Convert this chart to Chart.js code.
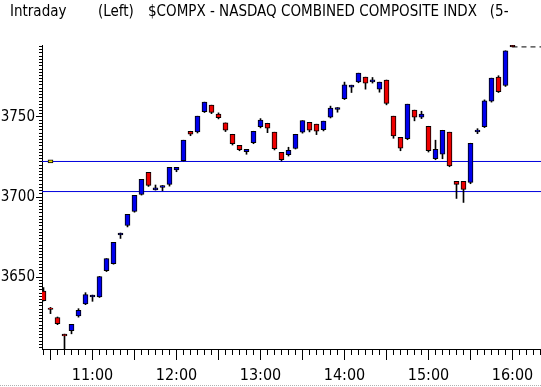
<!DOCTYPE html>
<html>
<head>
<meta charset="utf-8">
<script src="https://cdn.jsdelivr.net/npm/chart.js@4.4.1/dist/chart.umd.min.js"></script>
<style>
  html, body { margin: 0; padding: 0; background: #fff; }
  #wrap { position: relative; width: 541px; height: 387px; overflow: hidden; }
  #wrap canvas { position: absolute; left: 0; top: 0; }
  .ttl {
    position: absolute; top: 2px; line-height: 16px; white-space: nowrap; color: #000;
    font: 15px 'Liberation Sans Narrow', 'DejaVu Sans Condensed', sans-serif;
  }
  #foot { position: absolute; left: 0; top: 385px; width: 541px; border-top: 1px dotted #b0b0b0; }
</style>
</head>
<body>
<div id="wrap">
  <canvas id="chart" width="541" height="387"></canvas>
  <span class="ttl" style="left:10px">Intraday</span>
  <span class="ttl" style="left:98px">(Left)</span>
  <span class="ttl" style="left:148px">$COMPX - NASDAQ COMBINED COMPOSITE INDX&nbsp;&nbsp;&nbsp;(5-</span>
  <div id="foot"></div>
</div>
<script>
// 5-minute bars, 10:25 .. 16:00
const times = [
  '10:25','10:30','10:35','10:40','10:45','10:50','10:55','11:00','11:05','11:10',
  '11:15','11:20','11:25','11:30','11:35','11:40','11:45','11:50','11:55','12:00',
  '12:05','12:10','12:15','12:20','12:25','12:30','12:35','12:40','12:45','12:50',
  '12:55','13:00','13:05','13:10','13:15','13:20','13:25','13:30','13:35','13:40',
  '13:45','13:50','13:55','14:00','14:05','14:10','14:15','14:20','14:25','14:30',
  '14:35','14:40','14:45','14:50','14:55','15:00','15:05','15:10','15:15','15:20',
  '15:25','15:30','15:35','15:40','15:45','15:50','15:55','16:00'
];
const opens = [
  3641.2, 3630.6, 3624.7, 3614.3, 3616.4, 3625.6, 3633.1, 3637.5, 3637.5, 3654.0,
  3658.4, 3676.3, 3682.2, 3691.0, 3701.6, 3715.4, 3704.5, 3706.0, 3707.9, 3717.0,
  3722.7, 3741.1, 3740.7, 3753.4, 3757.4, 3751.8, 3746.3, 3739.2, 3732.3, 3728.3,
  3734.0, 3744.0, 3746.1, 3740.5, 3727.9, 3726.4, 3730.3, 3740.5, 3746.7, 3745.5,
  3742.1, 3749.9, 3754.7, 3761.5, 3768.7, 3772.0, 3774.9, 3772.0, 3767.4, 3773.1,
  3750.5, 3737.3, 3736.5, 3754.3, 3749.9, 3744.2, 3723.9, 3726.7, 3740.5, 3709.8,
  3709.8, 3709.1, 3740.7, 3744.0, 3759.9, 3774.9, 3769.7, 3795.0
];
const highs = [
  3643.4, 3631.0, 3625.0, 3614.3, 3620.4, 3630.2, 3640.2, 3638.7, 3650.4, 3661.5,
  3671.6, 3677.5, 3689.1, 3701.0, 3711.0, 3715.4, 3707.5, 3707.2, 3718.5, 3718.5,
  3735.5, 3741.1, 3750.5, 3759.3, 3757.4, 3752.6, 3746.3, 3739.2, 3732.3, 3729.8,
  3741.1, 3749.0, 3746.1, 3740.5, 3727.9, 3731.1, 3739.2, 3747.7, 3746.7, 3745.5,
  3747.4, 3756.8, 3755.9, 3771.8, 3769.9, 3777.4, 3774.9, 3774.7, 3771.8, 3773.1,
  3750.5, 3737.3, 3758.0, 3754.3, 3753.6, 3744.2, 3735.5, 3741.7, 3740.5, 3709.8,
  3709.8, 3733.6, 3742.7, 3760.7, 3774.3, 3775.8, 3791.4, 3795.0
];
const lows = [
  3635.0, 3627.1, 3620.2, 3604.0, 3614.5, 3624.9, 3632.7, 3634.8, 3637.2, 3653.4,
  3658.0, 3674.1, 3681.3, 3690.5, 3701.2, 3706.6, 3704.3, 3703.9, 3706.8, 3715.8,
  3722.5, 3738.3, 3740.0, 3752.8, 3752.1, 3748.8, 3740.9, 3732.5, 3728.9, 3726.7,
  3733.3, 3743.2, 3740.2, 3729.4, 3722.5, 3725.6, 3730.0, 3739.9, 3740.7, 3739.0,
  3741.3, 3749.4, 3753.0, 3760.9, 3765.3, 3771.4, 3767.4, 3771.2, 3765.5, 3757.6,
  3736.7, 3728.9, 3735.8, 3747.6, 3749.0, 3728.1, 3723.3, 3723.9, 3718.9, 3699.1,
  3696.6, 3708.3, 3739.6, 3743.4, 3759.3, 3765.3, 3769.1, 3793.8
];
const closes = [
  3635.2, 3629.8, 3620.8, 3613.1, 3620.4, 3629.1, 3639.0, 3638.7, 3650.2, 3661.5,
  3671.6, 3677.5, 3689.1, 3701.0, 3711.0, 3707.3, 3705.7, 3707.2, 3718.5, 3718.5,
  3735.5, 3739.2, 3750.5, 3759.3, 3752.9, 3749.6, 3741.7, 3733.3, 3729.6, 3729.8,
  3741.1, 3748.0, 3743.0, 3730.2, 3723.3, 3729.2, 3739.2, 3747.7, 3741.7, 3741.1,
  3747.4, 3755.5, 3755.9, 3770.1, 3769.9, 3777.4, 3771.2, 3773.2, 3771.8, 3758.5,
  3738.2, 3730.5, 3758.0, 3749.9, 3751.8, 3728.9, 3729.8, 3741.7, 3719.5, 3707.9,
  3704.8, 3733.6, 3741.9, 3760.1, 3774.3, 3765.9, 3791.4, 3793.8
];
// horizontal reference levels and the small marker on the upper one
const levels = [3722.2, 3703.4];
const markerTime = '10:30';
const markerRange = [3721.3, 3723.2];
const yTicks = [3650, 3700, 3750];

const FONT = "'Liberation Sans Narrow', 'DejaVu Sans Condensed', sans-serif";
const UP = '#0000ee', DOWN = '#ee0000';

const toMin = (s) => { const [h, m] = s.split(':').map(Number); return h * 60 + m; };
const X_MIN = 623.93, X_MAX = 980.36;

const bodies = times.map((t, i) => ({ x: toMin(t), y: [opens[i], closes[i]] }));
const wicks = times.map((t, i) => ({ x: toMin(t), y: [lows[i], highs[i]] }));
const bodyColors = times.map((t, i) => (closes[i] >= opens[i] ? UP : DOWN));
const lastClose = closes[closes.length - 1];

// small tick marks between the labelled ones
const minorTicks = {
  id: 'minorTicks',
  afterDraw(chart) {
    const { ctx, chartArea, scales: { x, y } } = chart;
    ctx.save();
    ctx.strokeStyle = '#000';
    ctx.lineWidth = 1;
    ctx.beginPath();
    for (let t = toMin(times[0]); t <= x.max; t += 5) {
      const px = Math.round(x.getPixelForValue(t) - 0.5) + 0.5;
      ctx.moveTo(px, chartArea.bottom);
      ctx.lineTo(px, chartArea.bottom + 6);
    }
    for (let v = Math.ceil(y.min / 2) * 2; v <= y.max; v += 2) {
      const py = Math.round(y.getPixelForValue(v) - 0.5) + 0.5;
      ctx.moveTo(chartArea.left - 3, py);
      ctx.lineTo(chartArea.left, py);
    }
    ctx.stroke();
    ctx.restore();
  }
};

new Chart(document.getElementById('chart'), {
  type: 'bar',
  data: {
    datasets: [
      ...levels.map((v) => ({
        type: 'line',
        data: [{ x: X_MIN, y: v }, { x: X_MAX, y: v }],
        borderColor: '#0000dd',
        borderWidth: 1,
        pointRadius: 0,
        order: 4
      })),
      {
        type: 'line',
        data: [{ x: toMin(times[times.length - 1]), y: lastClose }, { x: X_MAX, y: lastClose }],
        borderColor: '#000',
        borderWidth: 1,
        borderDash: [5, 4],
        pointRadius: 0,
        order: 3
      },
      {
        data: wicks,
        backgroundColor: '#000',
        borderWidth: 0,
        barThickness: 1,
        grouped: false,
        clip: 0,
        order: 2
      },
      {
        data: bodies,
        backgroundColor: bodyColors,
        borderColor: '#000',
        borderWidth: 1,
        borderSkipped: false,
        barThickness: 5,
        grouped: false,
        clip: 0,
        order: 1
      },
      {
        data: [{ x: toMin(markerTime), y: markerRange }],
        backgroundColor: '#f0e000',
        borderColor: '#000',
        borderWidth: 1,
        borderSkipped: false,
        barThickness: 5,
        grouped: false,
        order: 0
      }
    ]
  },
  options: {
    responsive: false,
    animation: false,
    layout: { padding: { top: 45, left: 0, right: 0, bottom: 0 } },
    plugins: { legend: { display: false }, tooltip: { enabled: false } },
    scales: {
      x: {
        type: 'linear',
        min: X_MIN,
        max: X_MAX,
        offset: false,
        afterFit: (s) => { s.height = 38; },
        afterBuildTicks: (s) => {
          const ticks = [];
          for (let t = 630; t <= 960; t += 30) ticks.push({ value: t });
          s.ticks = ticks;
        },
        grid: { drawOnChartArea: false, tickLength: 11, tickColor: '#000', offset: false },
        border: { color: '#000', width: 1 },
        ticks: {
          autoSkip: false,
          maxRotation: 0,
          padding: 6,
          color: '#000',
          font: { family: FONT, size: 16 },
          callback: (v) => (v % 60 === 0 ? `${v / 60}:00` : '')
        }
      },
      y: {
        min: 3605,
        max: 3795,
        afterFit: (s) => { s.width = 42; },
        afterBuildTicks: (s) => { s.ticks = yTicks.map((v) => ({ value: v })); },
        grid: { drawOnChartArea: false, tickLength: 6, tickColor: '#000' },
        border: { color: '#000', width: 1 },
        ticks: {
          padding: 1,
          color: '#000',
          font: { family: FONT, size: 15 },
          callback: (v) => String(v)
        }
      }
    }
  },
  plugins: [minorTicks]
});
</script>
</body>
</html>
